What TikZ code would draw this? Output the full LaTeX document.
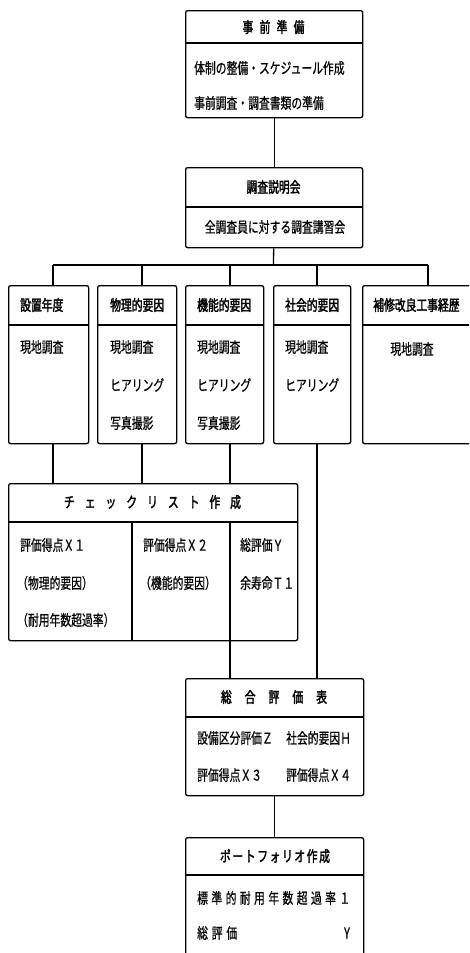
\documentclass[tikz,border=0pt]{standalone}
\usepackage{fontspec}
\usepackage{tikz}
\usetikzlibrary{positioning,calc}
\newfontfamily\jpfont[FakeStretch=0.72,FakeBold=0.6]{Noto Sans CJK JP}
\newfontfamily\jpboldfont[FakeStretch=0.72,FakeBold=2]{Noto Sans CJK JP}
\newcommand{\jptext}{\jpfont\fontsize{15}{16}\selectfont}
\newcommand{\jphead}{\jpboldfont\fontsize{15}{16}\selectfont}
\newcommand{\spread}[2]{\makebox[#1]{#2}}
\tikzset{
  box/.style={draw, rounded corners=2pt, line width=1.3pt, anchor=north west, inner sep=0pt},
  head/.style={font=\jphead, inner sep=0pt},
  item/.style={font=\jptext, anchor=west, inner sep=0pt},
  link/.style={line width=1.3pt},
}

\begin{document}
\begin{tikzpicture}[x=1pt, y=1pt]
    \useasboundingbox (0,0) rectangle (469,-953);
    \clip (0,0) rectangle (469,-953);
    % preparation and briefing
    \node[box, minimum width=177pt, minimum height=107pt] (prep) at (185,-10) {};
    \draw[link] ([yshift=-33pt]prep.north west) -- ([yshift=-33pt]prep.north east);
    \node[head] (prephd) at (273.5,-27) {\spread{62pt}{事\hfill 前\hfill 準\hfill 備}};
    \node[item] (prep1) at (194,-68) {体制の整備・スケジュール作成};
    \node[item] (prep2) at (194,-103) {事前調査・調査書類の準備};

    \node[box, minimum width=177pt, minimum height=80pt] (brief) at (185,-167) {};
    \draw[link] ([yshift=-40pt]brief.north west) -- ([yshift=-40pt]brief.north east);
    \node[head] (briefhd) at (273.5,-187) {調査説明会};
    \node[item, anchor=center] (brief1) at (275,-227) {全調査員に対する調査講習会};

    % five survey items
    \node[box, minimum width=80pt, minimum height=158pt] (year) at (8,-285) {};
    \node[box, minimum width=79pt, minimum height=158pt] (phys) at (97,-285) {};
    \node[box, minimum width=78pt, minimum height=158pt] (func) at (185,-285) {};
    \node[box, minimum width=77pt, minimum height=158pt] (soc) at (273,-285) {};
    \node[box, minimum width=115pt, minimum height=158pt] (repair) at (362,-285) {};
    \foreach \b in {year,phys,func,soc,repair}
      \draw[link] ([yshift=-40pt]\b.north west) -- ([yshift=-40pt]\b.north east);

    \node[item, font=\jphead] (yearhd) at (20,-305) {設置年度};
    \node[item, font=\jphead] (physhd) at (110,-305) {物理的要因};
    \node[item, font=\jphead] (funchd) at (197,-305) {機能的要因};
    \node[item, font=\jphead] (sochd) at (285,-305) {社会的要因};
    \node[item, font=\jphead] (repairhd) at (373,-305) {補修改良工事経歴};

    \node[item] (year1) at (20,-347) {現地調査};
    \node[item] (phys1) at (110,-347) {現地調査};
    \node[item] (phys2) at (110,-385) {ヒアリング};
    \node[item] (phys3) at (110,-423) {写真撮影};
    \node[item] (func1) at (197,-347) {現地調査};
    \node[item] (func2) at (197,-385) {ヒアリング};
    \node[item] (func3) at (197,-423) {写真撮影};
    \node[item] (soc1) at (285,-347) {現地調査};
    \node[item] (soc2) at (285,-385) {ヒアリング};
    \node[item, anchor=center] (repair1) at (412,-349) {現地調査};

    % check list
    \node[box, minimum width=289pt, minimum height=157pt] (chk) at (8,-483) {};
    \draw[link] ([yshift=-39pt]chk.north west) -- ([yshift=-39pt]chk.north east);
    \coordinate (cdivA) at (132,-522);
    \coordinate (cdivB) at (230,-522);
    \draw[link] (cdivA) -- (cdivA |- chk.south);
    \draw[link] (cdivB) -- (cdivB |- chk.south);
    \node[head] (chkhd) at (152.5,-502) {\spread{177pt}{チ\hfill ェ\hfill ッ\hfill ク\hfill リ\hfill ス\hfill ト\hfill 作\hfill 成}};
    \node[item] (chk1) at (20,-545) {評価得点Ｘ１};
    \node[item] (chk2) at (17,-583) {（物理的要因）};
    \node[item] (chk3) at (17,-620) {（耐用年数超過率）};
    \node[item] (chk4) at (143,-545) {評価得点Ｘ２};
    \node[item] (chk5) at (140,-583) {（機能的要因）};
    \node[item] (chk6) at (240,-545) {総評価Ｙ};
    \node[item] (chk7) at (240,-583) {余寿命Ｔ１};

    % overall evaluation
    \node[box, minimum width=178pt, minimum height=117pt] (eval) at (185,-678) {};
    \draw[link] ([yshift=-39pt]eval.north west) -- ([yshift=-39pt]eval.north east);
    \node[head] (evalhd) at (274,-697) {\spread{106pt}{総\hfill 合\hfill 評\hfill 価\hfill 表}};
    \node[item] (eval1) at (197,-738) {設備区分評価Ｚ};
    \node[item] (eval2) at (286,-738) {社会的要因Ｈ};
    \node[item] (eval3) at (197,-775) {評価得点Ｘ３};
    \node[item] (eval4) at (286,-775) {評価得点Ｘ４};

    % portfolio
    \node[box, minimum width=178pt, minimum height=140pt] (port) at (185,-837) {};
    \draw[link] ([yshift=-38pt]port.north west) -- ([yshift=-38pt]port.north east);
    \node[head] (porthd) at (275,-856) {\spread{110pt}{ポ\hfill ー\hfill ト\hfill フ\hfill ォ\hfill リ\hfill オ\hfill 作\hfill 成}};
    \node[item] (port1) at (197,-898) {\spread{153pt}{標\hfill 準\hfill 的\hfill 耐\hfill 用\hfill 年\hfill 数\hfill 超\hfill 過\hfill 率\hfill １}};
    \node[item] (port2) at (197,-933) {\spread{40pt}{総\hfill 評\hfill 価}};
    \node[item, anchor=center] (port3) at (347,-933) {Y};

    % connectors
    \coordinate (bus0) at (273.5,-265);
    \coordinate (bus1) at (53,-265);
    \coordinate (bus2) at (142,-265);
    \coordinate (bus3) at (230,-265);
    \coordinate (bus4) at (317,-265);
    \coordinate (bus5) at (428,-265);
    \draw[link] (prep) -- (brief);
    \draw[link] (brief) -- (bus0);
    \draw[link] (bus1) -- (bus5);
    \draw[link] (bus1) -- (year.north -| bus1);
    \draw[link] (bus2) -- (phys.north -| bus2);
    \draw[link] (bus3) -- (func.north -| bus3);
    \draw[link] (bus4) -- (soc.north -| bus4);
    \draw[link] (bus5) -- (repair.north -| bus5);
    \draw[link] (year.south -| bus1) -- (chk.north -| bus1);
    \draw[link] (phys.south -| bus2) -- (chk.north -| bus2);
    \draw[link] (func.south -| bus3) -- (chk.north -| bus3);
    \draw[link] (soc.south -| bus4) -- (eval.north -| bus4);
    \draw[link] (chk.south -| cdivB) -- (eval.north -| cdivB);
    \draw[link] (eval) -- (port);
  \end{tikzpicture}
\end{document}
